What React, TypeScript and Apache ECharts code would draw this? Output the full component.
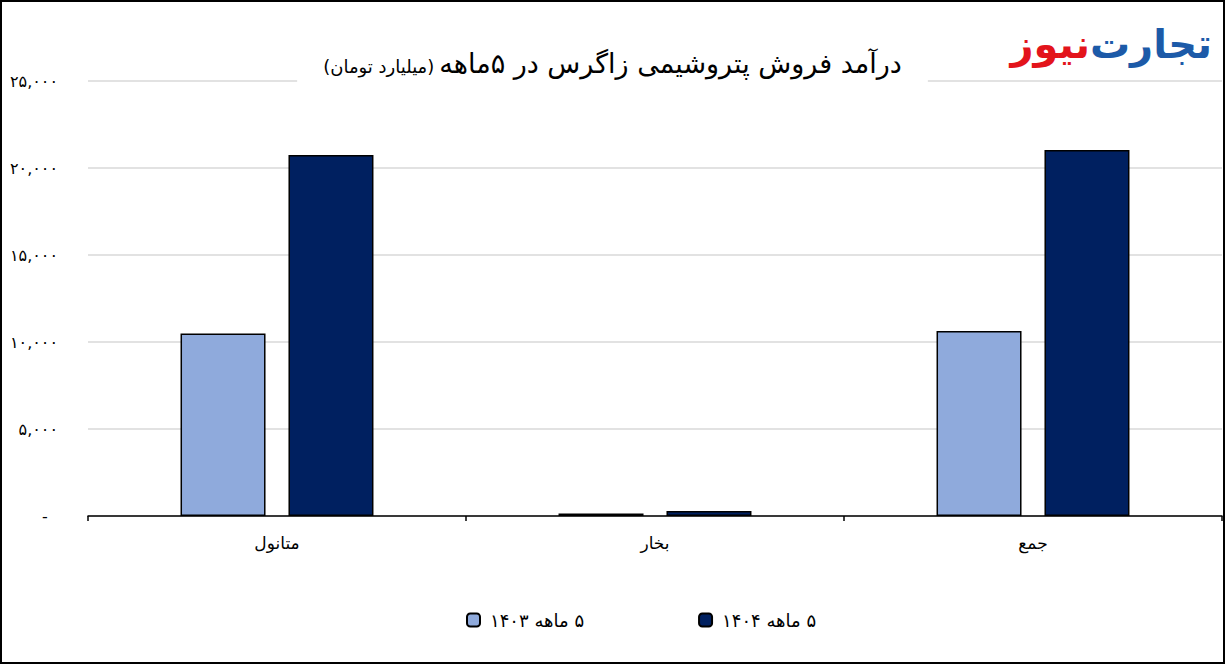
import React, { useEffect, useRef } from "react";
import * as echarts from "echarts";

const categories = ["متانول", "بخار", "جمع"];
const series1403 = [10490, 140, 10630];
const series1404 = [20750, 290, 21040];
const seriesNames = ["\u200F۵ ماهه ۱۴۰۳", "\u200F۵ ماهه ۱۴۰۴"];
const yTicks = [0, 5000, 10000, 15000, 20000, 25000];

const FA = "DejaVu Sans, Noto Sans, sans-serif";

function toFa(n: number): string {
  if (n === 0) return "-  ";
  const s = n.toLocaleString("en-US");
  return s.replace(/[0-9]/g, (d) => "۰۱۲۳۴۵۶۷۸۹"[Number(d)]);
}

export default function App() {
  const ref = useRef<HTMLDivElement>(null);
  useEffect(() => {
    if (!ref.current) return;
    const chart = echarts.init(ref.current, null, { renderer: "svg" });
    chart.setOption({
      animation: false,
      backgroundColor: "#fff",
      title: {
        text: "{b|(میلیارد تومان)} {a|درآمد فروش پتروشیمی زاگرس در ۵ماهه}",
        left: "center",
        top: 44,
        backgroundColor: "#fff",
        padding: [6, 26],
        textStyle: {
          fontWeight: "normal",
          rich: {
            a: { fontFamily: FA, fontSize: 27, fontWeight: "normal", color: "#000" },
            b: { fontFamily: FA, fontSize: 18, fontWeight: "normal", color: "#000", padding: [5, 0, 0, 0] },
          },
        },
      },
      grid: { left: 88, right: 3, top: 81, bottom: 148 },
      legend: {
        left: 461,
        top: 606,
        itemWidth: 13,
        itemHeight: 13,
        itemGap: 114,
        data: seriesNames,
        textStyle: { fontFamily: FA, fontSize: 18, color: "#000", padding: [0, 0, 0, 5] },
      },
      xAxis: {
        type: "category",
        data: categories,
        axisLine: { lineStyle: { color: "#000", width: 1.5 } },
        axisTick: { show: true, length: 5, lineStyle: { color: "#000", width: 1.5 } },
        axisLabel: { fontFamily: FA, fontSize: 17, color: "#000", margin: 18 },
      },
      yAxis: {
        type: "value",
        min: 0,
        max: 25000,
        interval: 5000,
        axisLine: { show: false },
        axisTick: { show: false },
        splitLine: { lineStyle: { color: "#d9d9d9", width: 1.5 } },
        axisLabel: {
          fontFamily: FA,
          fontSize: 16,
          color: "#000",
          margin: 30,
          formatter: (v: number) => toFa(v),
        },
      },
      series: [
        {
          name: seriesNames[0],
          type: "bar",
          data: series1403,
          barWidth: 85,
          barGap: "27%",
          itemStyle: { color: "#8faadc", borderColor: "#000", borderWidth: 1.5 },
        },
        {
          name: seriesNames[1],
          type: "bar",
          data: series1404,
          barWidth: 85,
          itemStyle: { color: "#002060", borderColor: "#000", borderWidth: 1.5 },
        },
      ],
      graphic: [
        {
          type: "rect",
          shape: { x: 1, y: 1, width: 1223, height: 662 },
          style: { fill: "none", stroke: "#000", lineWidth: 2 },
          z: 100,
        },
        {
          type: "text",
          x: 1212,
          y: 44,
          style: {
            text: "تجارت",
            fontFamily: FA,
            fontWeight: "bold",
            fontSize: 40,
            fill: "#1c5aa8",
            align: "right",
            verticalAlign: "middle",
          },
        },
        {
          type: "text",
          x: 1090,
          y: 44,
          style: {
            text: "نیوز",
            fontFamily: FA,
            fontWeight: "bold",
            fontSize: 40,
            fill: "#e3141b",
            align: "right",
            verticalAlign: "middle",
          },
        },
      ],
    });
    return () => chart.dispose();
  }, []);
  return (
    <div
      ref={ref}
      style={{ position: "fixed", left: 0, top: 0, width: 1225, height: 664 }}
    />
  );
}
